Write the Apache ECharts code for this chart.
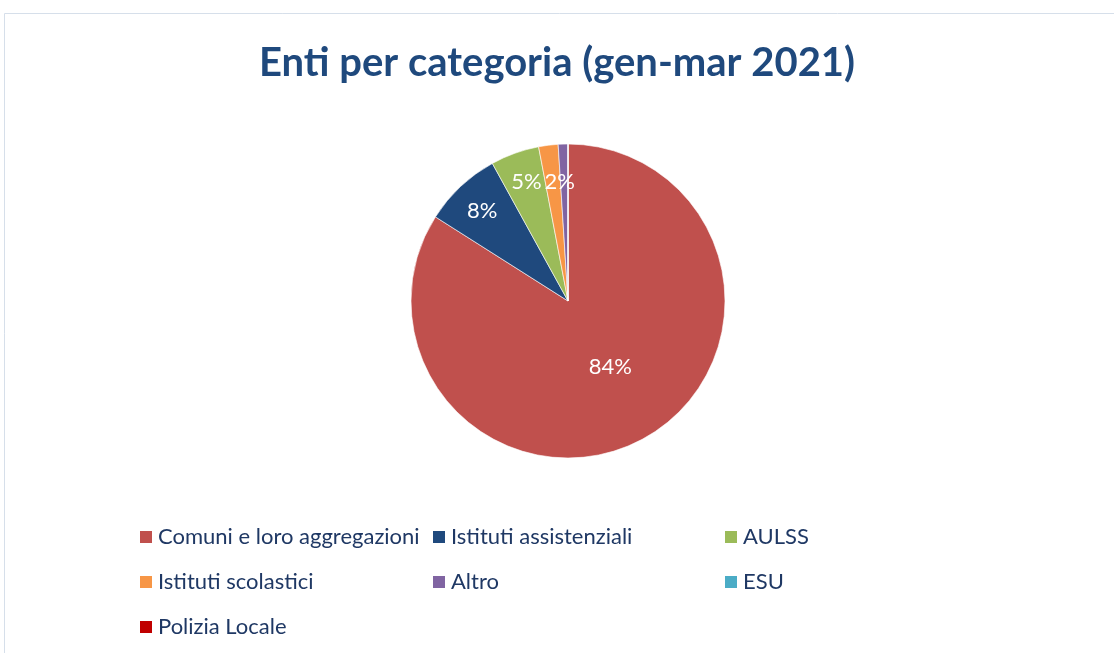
<!DOCTYPE html>
<html><head><meta charset="utf-8">
<script src="https://cdn.jsdelivr.net/npm/echarts@6/dist/echarts.min.js"></script>
<style>html,body{margin:0;padding:0;background:#fff}#c{width:1114px;height:653px}</style>
</head><body><div id="c"></div>
<script>
const categories = ['Comuni e loro aggregazioni','Istituti assistenziali','AULSS','Istituti scolastici','Altro','ESU','Polizia Locale'];
const values = [84, 8, 5, 2, 1, 0, 0];
const colors = ['#C0504D','#1F497D','#9BBB59','#F79646','#8064A2','#4BACC6','#C00000'];
const labelOffsets = [[3,-6],[-30,-31],[-14,-42],[2,-38],[0,0],[0,0],[0,0]];

const chart = echarts.init(document.getElementById('c'), null, {renderer:'canvas'});
const font = 'Lato, "Open Sans", sans-serif';
const legendText = {color:'#1F3864', fontSize:22, lineHeight:22, fontFamily:font};
function legend(left, names){
  return {orient:'vertical', left:left, top:521, itemWidth:14, itemHeight:14, itemGap:23,
    icon:'rect', textStyle:legendText, data:names, selectedMode:false};
}
chart.setOption({
  animation:false,
  color: colors,
  graphic:[{type:'rect', shape:{x:4.5,y:13.5,width:1200,height:800}, style:{fill:'none', stroke:'#D6DFEA', lineWidth:1}, silent:true}],
  title:{text:'Enti per categoria (gen-mar 2021)', left:'center', top:38,
    textStyle:{color:'#1F497D', fontSize:40, fontWeight:'bold', fontFamily:font}},
  legend:[
    legend(133,[categories[0],categories[3],categories[6]]),
    legend(426,[categories[1],categories[4]]),
    legend(718,[categories[2],categories[5]])
  ],
  series:[{
    type:'pie', center:[568,301], radius:157, startAngle:90, clockwise:true,
    avoidLabelOverlap:false, stillShowZeroSum:true,
    itemStyle:{borderColor:'#fff', borderWidth:0.6},
    labelLine:{show:false},
    data: categories.map((n,i)=>({name:n, value:values[i],
      label:{show: values[i]>=2, position:'inside', offset:labelOffsets[i]}})),
    label:{color:'#fff', fontSize:22, fontFamily:font,
      formatter: p => Math.round(p.percent)+'%'}
  }]
});
</script></body></html>
